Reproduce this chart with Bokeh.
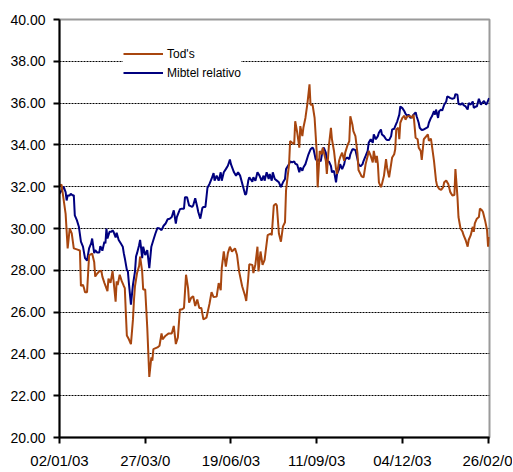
import pandas as pd
from bokeh.plotting import figure
from bokeh.models import (FixedTicker, Legend, LegendItem, NumeralTickFormatter,
                          Range1d, ColumnDataSource)
from bokeh.embed import file_html
from bokeh.resources import INLINE

# ---------------- data (days counted from 2003-01-02) ----------------
start_date = "2003-01-02"

tods_day = [0, 2, 6, 8, 10, 12, 14, 17, 20, 21, 23, 24, 25, 27, 29, 30, 32, 34, 35, 37,
            39, 41, 42, 44, 47, 48, 50, 52, 53, 55, 56, 57, 59, 61, 63, 64, 65, 66, 68, 70,
            72, 73, 74, 76, 78, 79, 81, 82, 84, 86, 88, 90, 91, 92, 96, 98, 100, 101, 104, 107,
            110, 112, 114, 116, 118, 120, 122, 124, 126, 127, 129, 131, 133, 135, 137, 139, 141, 144, 147, 149,
            151, 154, 156, 158, 159, 161, 163, 165, 167, 169, 172, 174, 176, 179, 182, 183, 185, 186, 189, 190,
            192, 194, 195, 197, 199, 201, 204, 207, 208, 210, 212, 213, 215, 217, 219, 221, 222, 225, 226, 228,
            230, 231, 233, 235, 236, 238, 239, 241, 243, 245, 246, 248, 250, 252, 253, 255, 257, 258, 261, 262,
            264, 266, 267, 269, 271, 272, 274, 275, 277, 279, 280, 282, 284, 285, 287, 288, 290, 292, 293, 295,
            296, 298, 300, 302, 303, 305, 307, 308, 310, 311, 312, 313, 315, 316, 318, 320, 321, 323, 325, 326,
            328, 329, 330, 332, 333, 334, 336, 338, 339, 341, 344, 346, 347, 349, 351, 352, 354, 355, 357, 361,
            362, 364, 365, 367, 369, 370, 372, 374, 376, 377, 379, 381, 383, 385, 387, 388, 390, 391, 393, 395,
            396, 398, 400, 401, 403, 405, 406, 407, 409, 411, 412, 414, 415, 417, 419, 420, 421]
tods_val = [32.05, 32.1, 30.7, 29.05, 30.0, 29.77, 29.05, 29.0, 28.95, 27.25, 27.3, 27.15, 26.95, 26.95, 28.7, 28.75, 28.8, 28.4, 27.7, 27.85,
            27.95, 27.98, 27.7, 27.4, 27.0, 27.6, 27.4, 27.96, 27.5, 26.5, 27.47, 27.3, 27.79, 27.48, 27.25, 27.15, 25.97, 24.88, 24.7, 24.47,
            25.65, 26.6, 27.25, 27.87, 28.2, 28.66, 27.95, 27.08, 27.08, 25.26, 22.9, 23.84, 23.68, 24.23, 24.31, 24.39, 24.98, 24.7, 24.87, 24.98,
            24.98, 25.34, 24.47, 24.79, 26.13, 26.13, 26.2, 27.79, 27.15, 26.45, 26.68, 26.76, 26.29, 26.6, 26.2, 26.2, 25.65, 25.73, 26.4, 26.95,
            26.72, 26.74, 27.39, 27.05, 28.1, 28.9, 28.18, 28.82, 29.13, 28.9, 29.05, 28.73, 27.95, 27.24, 26.76, 26.53, 27.63, 28.29, 28.26, 27.87,
            28.29, 29.13, 27.95, 28.9, 28.26, 28.5, 29.68, 29.76, 29.68, 31.1, 31.18, 31.1, 29.76, 29.37, 30.1, 30.3, 31.82, 33.08, 34.18, 34.1,
            34.03, 35.13, 34.58, 33.87, 34.9, 34.42, 34.82, 35.29, 36.0, 36.9, 35.92, 35.92, 35.29, 33.71, 31.97, 33.71, 33.55, 33.87, 33.24, 32.61,
            33.95, 34.82, 34.27, 33.71, 32.84, 32.61, 33.24, 33.4, 33.63, 33.24, 33.63, 33.95, 34.18, 35.37, 34.98, 34.66, 34.42, 33.6, 32.8, 32.6,
            32.5, 32.45, 33.08, 33.47, 33.71, 33.47, 33.16, 33.71, 33.16, 33.47, 33.08, 32.21, 31.98, 32.13, 32.53, 33.32, 32.92, 32.45, 33.08, 33.4,
            33.55, 33.79, 34.74, 34.82, 34.27, 35.06, 35.29, 35.4, 35.21, 35.37, 35.37, 35.29, 35.45, 34.34, 34.27, 33.87, 33.71, 33.28, 34.27, 34.5,
            34.2, 34.3, 33.95, 33.24, 32.29, 32.05, 31.9, 31.85, 31.98, 32.21, 32.29, 32.13, 31.74, 31.58, 31.6, 32.84, 31.5, 30.55, 30.0, 29.84,
            29.68, 29.45, 29.13, 29.45, 29.68, 30.08, 29.84, 30.24, 30.47, 30.55, 30.95, 30.87, 30.79, 30.4, 29.92, 29.13, 29.6]

mib_day = [0, 2, 3, 4, 6, 7, 8, 10, 11, 13, 14, 15, 17, 19, 21, 23, 25, 27, 29, 31,
           32, 34, 35, 37, 39, 40, 42, 44, 45, 46, 47, 49, 51, 52, 53, 55, 56, 58, 60, 62,
           63, 64, 66, 67, 68, 70, 72, 74, 75, 76, 78, 79, 80, 81, 82, 84, 86, 88, 90, 92,
           94, 96, 98, 100, 102, 104, 106, 108, 110, 112, 114, 115, 117, 118, 120, 122, 123, 125, 127, 128,
           130, 131, 133, 135, 136, 138, 140, 141, 143, 145, 147, 149, 151, 152, 154, 156, 158, 159, 161, 163,
           165, 167, 168, 171, 173, 175, 177, 180, 182, 183, 185, 186, 189, 190, 192, 194, 196, 198, 200, 201,
           203, 205, 206, 208, 209, 211, 213, 215, 217, 219, 221, 222, 225, 226, 228, 230, 231, 233, 235, 236,
           238, 239, 241, 243, 244, 246, 248, 249, 251, 253, 254, 256, 258, 259, 261, 262, 264, 266, 267, 269,
           271, 272, 274, 275, 277, 279, 280, 282, 284, 285, 287, 288, 290, 292, 293, 295, 297, 298, 300, 302,
           303, 305, 307, 308, 310, 312, 313, 315, 316, 318, 320, 321, 323, 325, 326, 328, 329, 331, 333, 334,
           336, 338, 339, 341, 342, 344, 346, 347, 349, 350, 352, 353, 355, 357, 358, 361, 362, 364, 365, 367,
           368, 369, 371, 372, 374, 375, 377, 379, 380, 382, 383, 385, 387, 388, 390, 391, 393, 395, 396, 398,
           400, 401, 403, 405, 406, 408, 409, 411, 413, 414, 416, 418, 419, 421]
mib_val = [31.66, 31.82, 31.9, 32.0, 31.74, 31.34, 31.58, 31.58, 31.66, 31.58, 31.6, 30.63, 30.4, 30.08, 29.37, 29.13, 28.58, 28.47, 29.05, 29.29,
           29.52, 28.82, 28.97, 28.85, 28.85, 29.16, 28.94, 29.37, 29.29, 30.0, 29.52, 29.84, 29.84, 29.92, 29.84, 29.57, 29.8, 29.45, 29.29, 29.13,
           28.82, 28.58, 28.02, 27.95, 27.39, 26.36, 27.31, 27.95, 28.66, 28.82, 29.2, 29.45, 29.05, 28.58, 29.13, 28.73, 28.97, 28.1, 29.13, 29.45,
           29.76, 30.03, 30.0, 29.92, 30.13, 30.24, 30.44, 30.47, 30.55, 30.87, 30.24, 30.55, 30.79, 30.92, 30.95, 30.95, 31.5, 31.5, 31.1, 31.08,
           31.03, 31.1, 31.45, 31.03, 30.79, 30.47, 30.98, 31.03, 31.03, 31.95, 32.13, 32.37, 32.65, 32.29, 32.53, 32.29, 32.69, 32.29, 32.69, 32.84,
           33.0, 33.3, 33.08, 32.69, 32.53, 32.69, 32.53, 31.98, 31.61, 31.66, 32.29, 32.45, 32.24, 32.45, 32.29, 32.69, 32.53, 32.29, 32.53, 32.29,
           32.69, 32.37, 32.61, 32.29, 32.69, 32.37, 32.29, 32.21, 31.98, 32.21, 32.37, 32.84, 33.08, 33.21, 33.16, 33.21, 33.1, 33.05, 32.69, 32.92,
           32.76, 32.92, 33.08, 33.4, 33.55, 33.79, 33.87, 33.79, 33.32, 33.21, 33.32, 33.21, 33.79, 33.87, 33.63, 33.16, 33.21, 33.0, 32.69, 32.76,
           32.21, 32.61, 32.84, 33.08, 32.84, 33.08, 33.32, 33.4, 33.32, 33.55, 33.79, 33.79, 33.75, 33.32, 33.08, 32.97, 33.08, 33.24, 33.47, 33.71,
           34.1, 34.27, 34.1, 34.5, 34.27, 34.42, 34.58, 34.74, 34.5, 34.42, 34.27, 34.23, 34.23, 34.42, 34.74, 34.77, 34.9, 35.13, 35.45, 35.84,
           35.76, 35.61, 35.5, 35.37, 35.45, 35.29, 35.37, 35.45, 35.56, 35.37, 35.06, 34.82, 34.71, 34.74, 34.77, 34.85, 35.06, 35.29, 35.37, 35.61,
           35.45, 35.69, 35.29, 35.61, 35.69, 35.64, 35.92, 36.08, 36.32, 36.27, 36.24, 36.21, 36.24, 36.43, 36.4, 35.96, 35.93, 36.0, 35.9, 35.84,
           35.69, 36.0, 35.93, 36.08, 35.77, 35.84, 35.84, 36.21, 35.93, 36.0, 36.1, 35.93, 36.0, 36.24]

series_names = ["Tod's", "Mibtel relativo"]
tick_dates = ["2003-01-02", "2003-03-27", "2003-06-19", "2003-09-11", "2003-12-04", "2004-02-26"]
tick_labels = ["02/01/03", "27/03/0", "19/06/03", "11/09/03", "04/12/03", "26/02/0"]
y_ticks = [20, 22, 24, 26, 28, 30, 32, 34, 36, 38, 40]
grid_ticks = [22, 24, 26, 28, 30, 32, 34, 36, 38]

# ---------------- build ----------------
base = pd.Timestamp(start_date)
tods_src = ColumnDataSource(dict(x=base + pd.to_timedelta(tods_day, unit="D"), y=tods_val))
mib_src = ColumnDataSource(dict(x=base + pd.to_timedelta(mib_day, unit="D"), y=mib_val))

FONT = "Liberation Sans"
BROWN = "#A8460F"
NAVY = "#00007F"

p = figure(width=512, height=471, x_axis_type="datetime",
           x_range=Range1d(start=base, end=pd.Timestamp("2004-02-27 09:30")),
           y_range=Range1d(start=20, end=40),
           output_backend="svg", toolbar_location=None,
           min_border_left=59, min_border_right=23, min_border_top=19, min_border_bottom=30)

r_mib = p.line("x", "y", source=mib_src, line_color=NAVY, line_width=2)
r_tods = p.line("x", "y", source=tods_src, line_color=BROWN, line_width=2)

# axes
tick_ms = [float(pd.Timestamp(d).value // 10**6) for d in tick_dates]
p.xaxis.ticker = FixedTicker(ticks=tick_ms)
p.xaxis.major_label_overrides = {t: lab for t, lab in zip(tick_ms, tick_labels)}
p.yaxis.ticker = FixedTicker(ticks=y_ticks)
p.yaxis.formatter = NumeralTickFormatter(format="0.00")

for ax in (p.xaxis, p.yaxis):
    ax.axis_line_color = "black"
    ax.axis_line_width = 2
    ax.major_tick_line_color = "black"
    ax.major_tick_line_width = 2
    ax.major_tick_in = 0
    ax.major_tick_out = 6
    ax.minor_tick_line_color = None
    ax.major_label_text_font = FONT
    ax.major_label_text_color = "black"

p.xaxis.major_label_text_font_size = "15px"
p.xaxis.major_label_standoff = 8
p.yaxis.major_label_text_font_size = "14px"
p.yaxis.major_label_standoff = 8

# grid
p.xgrid.grid_line_color = None
p.ygrid.ticker = FixedTicker(ticks=grid_ticks)
p.ygrid.grid_line_color = "black"
p.ygrid.grid_line_dash = "2 1"
p.ygrid.grid_line_width = 1

p.outline_line_color = "#9A9A9A"
p.outline_line_width = 2
p.background_fill_color = "white"
p.border_fill_color = "white"

legend = Legend(items=[LegendItem(label=series_names[0], renderers=[r_tods]),
                       LegendItem(label=series_names[1], renderers=[r_mib])],
                location=(64, 356))
legend.label_text_font = FONT
legend.label_text_font_size = "12px"
legend.label_text_color = "black"
legend.glyph_width = 40
legend.glyph_height = 17
legend.label_height = 17
legend.label_standoff = 4
legend.spacing = 2
legend.padding = 8
legend.margin = 0
legend.border_line_color = None
legend.background_fill_color = "white"
legend.background_fill_alpha = 1.0
p.add_layout(legend)

open("out.html", "w").write(file_html(p, INLINE))
